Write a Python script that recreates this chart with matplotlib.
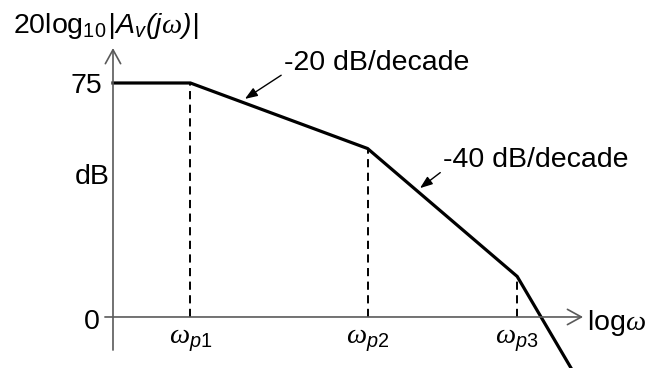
import matplotlib
matplotlib.use("Agg")
import matplotlib.pyplot as plt
from matplotlib.offsetbox import TextArea, HPacker, AnnotationBbox

plt.rcParams['font.family'] = ['Liberation Sans', 'DejaVu Sans']
plt.rcParams['mathtext.fontset'] = 'custom'
plt.rcParams['mathtext.rm'] = 'Liberation Sans'
plt.rcParams['mathtext.it'] = 'Liberation Sans:italic'
plt.rcParams['mathtext.sf'] = 'Liberation Sans:italic'   # slanted parens
plt.rcParams['mathtext.bf'] = 'Liberation Serif:italic'  # omega glyph

# asymptotic Bode magnitude: corner points (log w, dB)
log_w = [0.0, 0.45, 1.48, 2.35, 2.67]
gain_db = [75, 75, 54, 13, -17]
poles = [r'$\mathbf{\omega}_{p\mathrm{1}}$', r'$\mathbf{\omega}_{p\mathrm{2}}$',
         r'$\mathbf{\omega}_{p\mathrm{3}}$']
slopes = ['-20 dB/decade', '-40 dB/decade']

AX = '#5a5a5a'
FS = 20.5

fig = plt.figure(figsize=(6.57, 3.68), dpi=100)
ax = fig.add_axes([0, 0, 1, 1])
ax.set_xlim(-0.657, 3.163)
ax.set_ylim(-16.35, 101.6)
ax.axis('off')

# axes with open arrow heads
axis_arrow = dict(arrowstyle='->,head_length=1.0,head_width=0.55',
                  lw=1.2, color=AX, shrinkA=0, shrinkB=0, mutation_scale=10)
ax.annotate('', xy=(0, 86.2), xytext=(0, -10.6), arrowprops=axis_arrow)
ax.annotate('', xy=(2.733, 0), xytext=(-0.047, 0), arrowprops=axis_arrow)

# dashed drop lines at the poles
for x, y in zip(log_w[1:4], gain_db[1:4]):
    ax.plot([x, x], [0, y], color='black', lw=1.4, ls=(0, (4.2, 2.8)))

ax.plot(log_w, gain_db, color='black', lw=2.3, solid_joinstyle='miter')

for x, lab in zip(log_w[1:4], poles):
    ax.text(x, -7.7, lab, ha='center', va='center', fontsize=FS)

ax.text(-0.064, 75, '75', ha='right', va='center_baseline', fontsize=FS)
ax.text(-0.017, 45.8, 'dB', ha='right', va='center_baseline', fontsize=FS)
ax.text(-0.076, -0.8, '0', ha='right', va='center_baseline', fontsize=FS)
ax.text(2.756, -0.8, r'log$\mathbf{\omega}$', ha='left', va='center_baseline',
        fontsize=FS)

# y-axis title, pieced together so the bars come out slanted
up = dict(fontsize=FS)
it = dict(fontsize=FS, fontstyle='italic')
title = HPacker(children=[TextArea(r'20log$_{10}$', textprops=up),
                          TextArea('|', textprops=it),
                          TextArea(r'$\mathsf{A_v(j}\mathbf{\omega}\mathsf{)}$',
                                   textprops=up),
                          TextArea('|', textprops=it)],
                align='baseline', pad=0, sep=0)
ax.add_artist(AnnotationBbox(title, (-0.58, 88.5), frameon=False,
                             box_alignment=(0, 0), pad=0))

# slope annotations
slope_arrow = dict(arrowstyle='-|>,head_length=0.75,head_width=0.28',
                   lw=1.0, color='black', shrinkA=0, shrinkB=0,
                   mutation_scale=10, relpos=(0, 0.1))
ax.annotate(slopes[0], xy=(0.767, 69.9), xytext=(0.994, 81.4),
            ha='left', va='center', fontsize=FS, arrowprops=slope_arrow)
ax.annotate(slopes[1], xy=(1.785, 41.3), xytext=(1.919, 50.3),
            ha='left', va='center', fontsize=FS, arrowprops=slope_arrow)

fig.savefig('out.png', dpi=100)
